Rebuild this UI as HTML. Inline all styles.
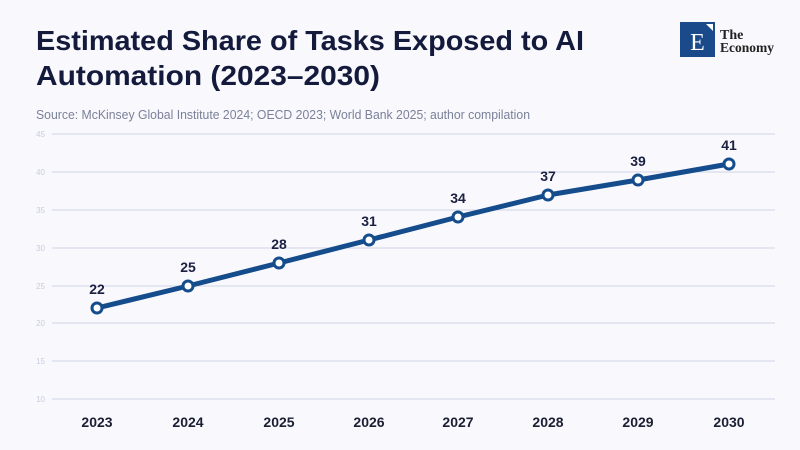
<!DOCTYPE html>
<html><head><meta charset="utf-8"><style>
html,body{margin:0;padding:0;background:#f8f8fd;}
svg{display:block;font-family:"Liberation Sans",sans-serif;}
</style></head><body>
<svg width="800" height="450" viewBox="0 0 800 450" xmlns="http://www.w3.org/2000/svg">
<rect width="800" height="450" fill="#f8f8fd"/>
<text x="36" y="50" font-size="28" font-weight="bold" fill="#141a3c" textLength="548" lengthAdjust="spacingAndGlyphs">Estimated Share of Tasks Exposed to AI</text>
<text x="36" y="85" font-size="28" font-weight="bold" fill="#141a3c" textLength="344" lengthAdjust="spacingAndGlyphs">Automation (2023–2030)</text>
<text x="36" y="119" font-size="12.5" fill="#7a8199" textLength="494" lengthAdjust="spacingAndGlyphs">Source: McKinsey Global Institute 2024; OECD 2023; World Bank 2025; author compilation</text>
<rect x="680" y="22" width="35" height="35" fill="#1a4a8a"/>
<polygon points="706,24 713,24 713,31" fill="#fff"/>
<text x="697.5" y="50" font-size="24" fill="#fff" text-anchor="middle" font-family="Liberation Serif,serif">E</text>
<text x="720" y="39" font-size="14" font-weight="bold" fill="#222" font-family="Liberation Serif,serif">The</text>
<text x="720" y="52" font-size="14" font-weight="bold" fill="#222" font-family="Liberation Serif,serif" textLength="54" lengthAdjust="spacingAndGlyphs">Economy</text>
<g stroke="#cfd6e6" stroke-width="1">
<line x1="52" x2="775" y1="134" y2="134"/><line x1="52" x2="775" y1="172" y2="172"/>
<line x1="52" x2="775" y1="210" y2="210"/><line x1="52" x2="775" y1="248" y2="248"/>
<line x1="52" x2="775" y1="286" y2="286"/><line x1="52" x2="775" y1="323" y2="323"/>
<line x1="52" x2="775" y1="361" y2="361"/><line x1="52" x2="775" y1="399" y2="399"/>
</g>
<g font-size="8" fill="#c8cede" text-anchor="end">
<text x="45" y="137">45</text><text x="45" y="175">40</text><text x="45" y="213">35</text><text x="45" y="251">30</text>
<text x="45" y="289">25</text><text x="45" y="326">20</text><text x="45" y="364">15</text><text x="45" y="402">10</text>
</g>
<polyline fill="none" stroke="#154c8c" stroke-width="5" stroke-linejoin="round" points="97,308 188,286 279,263 369,240 458,217 548,195 638,180 729,164"/>
<g fill="#fff" stroke="#154c8c" stroke-width="3">
<circle cx="97" cy="308" r="5"/><circle cx="188" cy="286" r="5"/><circle cx="279" cy="263" r="5"/><circle cx="369" cy="240" r="5"/>
<circle cx="458" cy="217" r="5"/><circle cx="548" cy="195" r="5"/><circle cx="638" cy="180" r="5"/><circle cx="729" cy="164" r="5"/>
</g>
<g font-size="14" font-weight="bold" fill="#1a2040" text-anchor="middle">
<text x="97" y="294">22</text><text x="188" y="272">25</text><text x="279" y="249">28</text><text x="369" y="226">31</text>
<text x="458" y="203">34</text><text x="548" y="181">37</text><text x="638" y="166">39</text><text x="729" y="150">41</text>
</g>
<g font-size="14" font-weight="bold" fill="#1a1f33" text-anchor="middle">
<text x="97" y="427">2023</text><text x="188" y="427">2024</text><text x="279" y="427">2025</text><text x="369" y="427">2026</text>
<text x="458" y="427">2027</text><text x="548" y="427">2028</text><text x="638" y="427">2029</text><text x="729" y="427">2030</text>
</g>
</svg>
</body></html>
